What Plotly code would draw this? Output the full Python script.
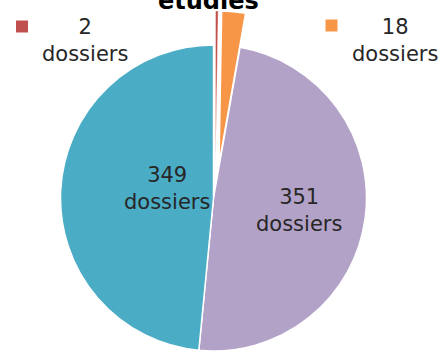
import plotly.graph_objects as go

# Data
categories = ["Catégorie A", "Catégorie B", "Catégorie C", "Catégorie D"]
values = [2, 18, 351, 349]
unit = "dossiers"
title_text = "étudiés"

colors = ["#C0504D", "#F79646", "#B3A2C7", "#4BACC6"]
CLEAR = "rgba(0,0,0,0)"

W, H = 443, 351
R = 153                 # pie radius in px
CX, CY = 213.5, 198     # pie centre in px
# exploded slices: offset of each slice in px (dx, dy) and border width
explode = {0: (2, -34, 0.4), 1: (5.5, -34, 1.5)}

FONT = "DejaVu Sans, Verdana, sans-serif"
TXT = "#262626"
FS = 21


def px(x):
    return x / W


def py(y):
    return 1 - y / H


def domain(cx, cy, r):
    return dict(x=[max(0, px(cx - r)), min(1, px(cx + r))],
                y=[max(0, py(cy + r)), min(1, py(cy - r))])


def pie_trace(visible_idx, cx, cy, lw=1.5):
    fill = [colors[i] if i in visible_idx else CLEAR for i in range(len(values))]
    edge = ["white" if i in visible_idx else CLEAR for i in range(len(values))]
    return go.Pie(
        labels=categories, values=values, sort=False,
        direction="clockwise", rotation=0,
        marker=dict(colors=fill, line=dict(color=edge, width=lw)),
        textinfo="none", hoverinfo="skip", showlegend=False,
        domain=domain(cx, cy, R),
    )


fig = go.Figure()
# main body of the pie
fig.add_trace(pie_trace({2, 3}, CX, CY))
# exploded small slices
for i, (dx, dy, lw) in explode.items():
    fig.add_trace(pie_trace({i}, CX + dx, CY + dy, lw))

annotations = []
# in-slice labels
inner_pos = {3: (167, 188), 2: (299, 210)}
for i, (x, y) in inner_pos.items():
    annotations.append(dict(
        x=px(x), y=py(y), xref="paper", yref="paper",
        text=f"{values[i]}<br>{unit}", showarrow=False,
        xanchor="center", yanchor="middle",
        font=dict(family=FONT, size=FS, color=TXT),
    ))

# outside labels with colour keys
outer_pos = {0: (85, 41, 22, 26.5), 1: (395, 40, 331.5, 25.5)}
shapes = []
for i, (x, y, kx, ky) in outer_pos.items():
    annotations.append(dict(
        x=px(x), y=py(y), xref="paper", yref="paper",
        text=f"{values[i]}<br>{unit}", showarrow=False,
        xanchor="center", yanchor="middle",
        font=dict(family=FONT, size=FS, color=TXT),
    ))
    s = 6
    shapes.append(dict(
        type="rect", xref="paper", yref="paper",
        x0=px(kx - s), x1=px(kx + s), y0=py(ky + s), y1=py(ky - s),
        fillcolor=colors[i], line=dict(width=0),
    ))

# chart title (runs off the top edge)
annotations.append(dict(
    x=px(208), y=py(17), xref="paper", yref="paper",
    text=f"<b>{title_text}</b>", showarrow=False,
    xanchor="center", yanchor="bottom",
    font=dict(family=FONT, size=24, color="#000000"),
))

fig.update_layout(
    width=W, height=H,
    margin=dict(l=0, r=0, t=0, b=0),
    paper_bgcolor="white", plot_bgcolor="white",
    showlegend=False,
    annotations=annotations,
    shapes=shapes,
)

fig.write_html("out.html")
